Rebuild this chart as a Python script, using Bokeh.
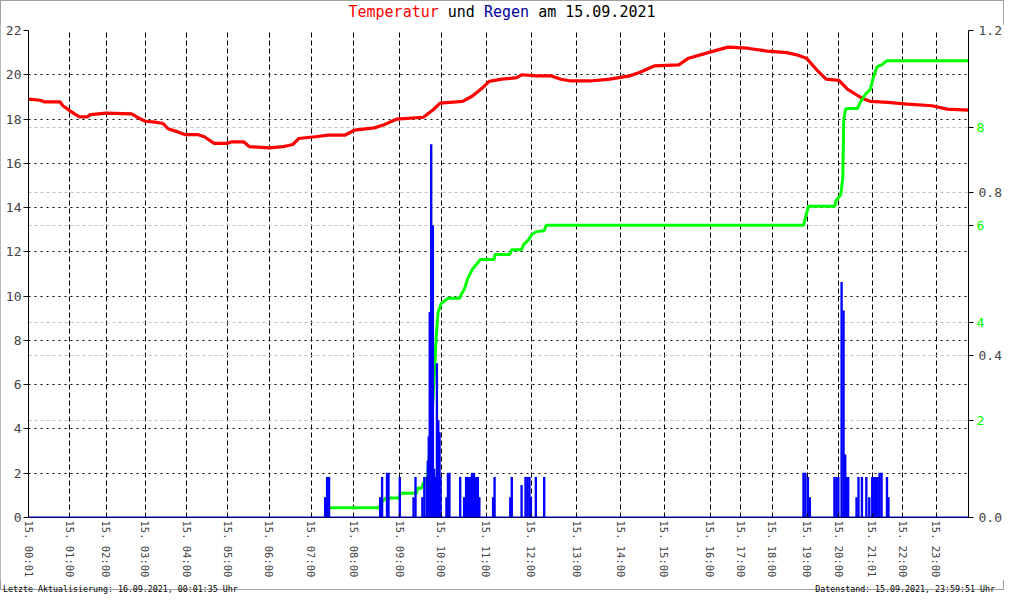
from bokeh.plotting import figure
from bokeh.layouts import column
from bokeh.models import Range1d, LinearAxis, FixedTicker, Grid, Span, PrintfTickFormatter, Div
from bokeh.embed import file_html
from bokeh.resources import INLINE

# The original chart is index based: x is the logger's sample index, not clock time.
N_SAMPLES = 957
tick_samples = [0, 42, 79, 119, 161, 203, 245, 288, 331, 378, 420, 466, 512, 558,
                603, 647, 694, 725, 757, 793, 825, 859, 890, 924]
tick_labels = ["15. 00:01", "15. 01:00", "15. 02:00", "15. 03:00", "15. 04:00", "15. 05:00",
               "15. 06:00", "15. 07:00", "15. 08:00", "15. 09:00", "15. 10:00", "15. 11:00",
               "15. 12:00", "15. 13:00", "15. 14:00", "15. 15:00", "15. 16:00", "15. 17:00",
               "15. 18:00", "15. 19:00", "15. 20:00", "15. 21:01", "15. 22:00", "15. 23:00"]

# Temperatur (°C)
temp_sample = [0, 12, 16, 32, 35, 42, 48, 52, 60, 63, 79, 105, 112, 119, 129, 137, 142, 152,
               159, 172, 179, 189, 202, 207, 219, 225, 245, 259, 269, 275, 292, 305, 322, 332,
               352, 362, 375, 402, 412, 419, 442, 452, 462, 469, 482, 497, 502, 517, 532, 542,
               552, 572, 592, 612, 622, 637, 662, 672, 692, 712, 732, 752, 772, 782, 792, 804,
               812, 825, 834, 842, 849, 857, 875, 895, 920, 935, 957]
temp_value = [18.9, 18.85, 18.78, 18.78, 18.6, 18.38, 18.2, 18.1, 18.1, 18.2, 18.27, 18.23,
              18.05, 17.9, 17.86, 17.8, 17.56, 17.42, 17.3, 17.3, 17.2, 16.9, 16.9, 16.97,
              16.97, 16.75, 16.7, 16.75, 16.85, 17.12, 17.2, 17.27, 17.27, 17.5, 17.6, 17.74,
              18.0, 18.08, 18.42, 18.72, 18.8, 19.04, 19.4, 19.7, 19.8, 19.87, 20.0, 19.95,
              19.95, 19.8, 19.72, 19.72, 19.8, 19.95, 20.1, 20.4, 20.45, 20.75, 21.0, 21.25,
              21.2, 21.07, 21.0, 20.9, 20.75, 20.15, 19.8, 19.75, 19.34, 19.12, 18.93, 18.8,
              18.75, 18.67, 18.6, 18.45, 18.4]

# Regensumme (mm)
sum_sample = [302, 303, 357, 359, 364, 377, 379, 395, 396, 400, 402, 406, 409, 412, 414,
              415, 417, 419, 420, 427, 439, 440, 444, 447, 452, 457, 460, 474, 475, 490, 492,
              502, 504, 509, 512, 517, 525, 527, 789, 794, 821, 822, 827, 829, 830, 832, 834,
              844, 847, 852, 857, 860, 864, 869, 874, 957]
sum_value = [0, 0.2, 0.2, 0.3, 0.4, 0.4, 0.5, 0.5, 0.6, 0.6, 0.7, 0.8, 1.5, 2.5, 3.28,
             3.69, 4.22, 4.32, 4.39, 4.5, 4.5, 4.56, 4.7, 4.9, 5.1, 5.22, 5.3, 5.3, 5.4, 5.4,
             5.5, 5.5, 5.6, 5.7, 5.8, 5.87, 5.89, 6.0, 6.0, 6.39, 6.39, 6.5, 6.63, 6.98, 8.18,
             8.39, 8.4, 8.4, 8.53, 8.69, 8.79, 9.03, 9.26, 9.3, 9.38, 9.38]

# Regen (Intensitaet)
rain_sample = [302, 304, 306,
               358, 360, 365, 366.5, 378, 392, 394, 401, 403,
               405.5, 406.5, 407.5, 408.5, 410, 411.7, 413, 414.3, 415.8, 417.2, 418.5, 419.5,
               425.5, 427, 428.5, 439.5,
               443.5, 445.5, 447.5, 449.5, 451.5, 453.5, 455.5, 457.5, 459,
               473, 474.5, 490.5, 492, 502, 506, 508, 510, 511.5, 516.5, 525,
               789, 791, 793.5, 795.5,
               820.5, 822.5, 824.5, 827.8, 829.8, 831.5, 833, 834.5,
               843, 845, 848.5, 853, 856, 859, 861, 863, 864.5, 866.5, 868.5, 874, 875.5]
rain_value = [0.05, 0.1, 0.1,
              0.05, 0.1, 0.11, 0.11, 0.1, 0.05, 0.1, 0.05, 0.1,
              0.1, 0.14, 0.2, 0.506, 0.92, 0.72, 0.12, 0.1, 0.38, 0.24, 0.21, 0.1,
              0.05, 0.11, 0.11, 0.1,
              0.05, 0.1, 0.1, 0.1, 0.11, 0.11, 0.1, 0.1, 0.05,
              0.05, 0.1, 0.05, 0.1, 0.08, 0.1, 0.1, 0.1, 0.05, 0.1, 0.1,
              0.11, 0.11, 0.1, 0.05,
              0.1, 0.1, 0.1, 0.58, 0.51, 0.155, 0.1, 0.1,
              0.05, 0.1, 0.1, 0.1, 0.05, 0.1, 0.1, 0.1, 0.1, 0.11, 0.11, 0.1, 0.05]

TEMP_MAX = 22
RAIN_MAX = 1.2
SUM_MAX = 10
temp_ticks = list(range(0, 23, 2))
rain_ticks = [0.0, 0.4, 0.8, 1.2]
sum_ticks = [2, 4, 6, 8]

title_parts = [("Temperatur", "#ff0000"), ("und", "#000000"), ("Regen", "#000099"),
               ("am 15.09.2021", "#000000")]
footer_left = "Letzte Aktualisierung: 16.09.2021, 00:01:35 Uhr"
footer_right = "Datenstand: 15.09.2021, 23:59:51 Uhr"

MONO = "DejaVu Sans Mono"
RED, GREEN, BLUE = "#ff0000", "#00ff00", "#0000ff"

W = 1004
TITLE_H, FOOT_H = 24, 10
FIG_H = 590 - TITLE_H - FOOT_H

p = figure(width=W, height=FIG_H, output_backend="svg", toolbar_location=None,
           x_range=Range1d(0, N_SAMPLES), y_range=Range1d(0, TEMP_MAX),
           min_border_left=28, min_border_right=32, min_border_top=6, min_border_bottom=62)
p.extra_y_ranges = {"rain": Range1d(0, RAIN_MAX), "sum": Range1d(0, SUM_MAX)}
p.outline_line_color = None
p.background_fill_color = "white"
p.border_fill_color = "white"

# grids
p.xgrid.ticker = FixedTicker(ticks=tick_samples)
p.xgrid.grid_line_color = "black"
p.xgrid.grid_line_dash = "5 3"
p.ygrid.ticker = FixedTicker(ticks=temp_ticks)
p.ygrid.grid_line_color = "black"
p.ygrid.grid_line_dash = "2 4"

sum_as_rain = [t * RAIN_MAX / SUM_MAX for t in sum_ticks]
rain_as_sum = [t * SUM_MAX / RAIN_MAX for t in rain_ticks]
grey_grid = Grid(dimension=1, y_range_name="rain",
                 ticker=FixedTicker(ticks=[t for t in rain_ticks if 0 < t < RAIN_MAX] + sum_as_rain),
                 grid_line_color="#c0c0c0", grid_line_dash="3 3")
p.add_layout(grey_grid)

# data
p.line(temp_sample, temp_value, line_color=RED, line_width=3.2)
p.line(sum_sample, sum_value, y_range_name="sum", line_color=GREEN, line_width=3)
p.vbar(x=rain_sample, top=rain_value, bottom=0, width=2.4, y_range_name="rain",
       fill_color=BLUE, line_color=None)
p.add_layout(Span(location=0, dimension="width", y_range_name="rain",
                  line_color="#0000cc", line_width=2))

# axes
xa = p.xaxis[0]
xa.ticker = FixedTicker(ticks=tick_samples)
xa.major_label_overrides = dict(zip(tick_samples, tick_labels))
xa.major_label_orientation = "vertical"
xa.major_tick_in = 4
xa.major_tick_out = 0
xa.minor_tick_line_color = None
xa.axis_line_color = "black"
xa.major_label_text_font = MONO
xa.major_label_text_font_size = "10.5px"
xa.major_label_standoff = 3

ya = p.yaxis[0]
ya.ticker = FixedTicker(ticks=temp_ticks)
ya.major_tick_in = 0
ya.major_tick_out = 5
ya.minor_tick_line_color = None
ya.major_label_text_font = MONO
ya.major_label_text_font_size = "13px"
ya.major_label_standoff = 2

# right side, next to the frame: axis line, all tick marks, green sum labels
sa = LinearAxis(y_range_name="sum", ticker=FixedTicker(ticks=sorted(sum_ticks + rain_as_sum)),
                major_label_overrides={t: "" for t in rain_as_sum})
sa.major_tick_in = 0
sa.major_tick_out = 5
sa.minor_tick_line_color = None
sa.major_label_text_color = GREEN
sa.major_label_text_font = MONO
sa.major_label_text_font_size = "13px"
sa.major_label_standoff = 3
p.add_layout(sa, "right")

# outer right axis: only the black rain labels, pulled back into the same column
ra = LinearAxis(y_range_name="rain", ticker=FixedTicker(ticks=rain_ticks),
                formatter=PrintfTickFormatter(format="%.1f"))
ra.axis_line_color = None
ra.major_tick_line_color = None
ra.major_tick_in = 0
ra.major_tick_out = 0
ra.minor_tick_line_color = None
ra.major_label_text_font = MONO
ra.major_label_text_font_size = "13px"
ra.major_label_standoff = -9
p.add_layout(ra, "right")

title_html = " ".join(f'<span style="color:{c}">{t}</span>' for t, c in title_parts)
title_div = Div(text=f'<div style="width:{W}px;text-align:center;font-family:\'{MONO}\';'
                     f'font-size:15px;line-height:{TITLE_H}px;white-space:pre">{title_html}</div>',
                width=W, height=TITLE_H, margin=0)
footer_div = Div(text=f'<div style="width:{W - 6}px;display:flex;justify-content:space-between;'
                      f'padding:0 3px;font-family:\'{MONO}\';font-size:8.3px;'
                      f'line-height:{FOOT_H}px;white-space:pre">'
                      f'<span>{footer_left}</span><span>{footer_right}</span></div>',
                 width=W, height=FOOT_H, margin=0)

layout = column(title_div, p, footer_div, spacing=0,
                styles={"outline": "1px solid #a0a0a0", "outline-offset": "-1px"})
open("out.html", "w").write(file_html(layout, INLINE))
